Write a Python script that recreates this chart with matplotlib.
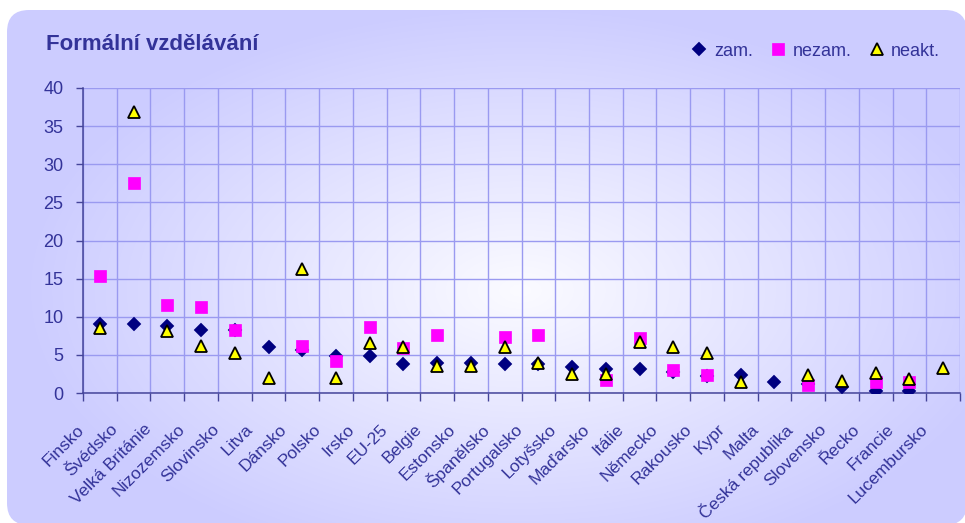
import numpy as np
import matplotlib
matplotlib.use('Agg')
import matplotlib.pyplot as plt
from matplotlib.patches import FancyBboxPatch
from matplotlib.transforms import ScaledTranslation

nan = np.nan
title = 'Formální vzdělávání'
countries = ['Finsko', 'Švédsko', 'Velká Británie', 'Nizozemsko', 'Slovinsko', 'Litva',
             'Dánsko', 'Polsko', 'Irsko', 'EU-25', 'Belgie', 'Estonsko', 'Španělsko',
             'Portugalsko', 'Lotyšsko', 'Maďarsko', 'Itálie', 'Německo', 'Rakousko',
             'Kypr', 'Malta', 'Česká republika', 'Slovensko', 'Řecko', 'Francie',
             'Lucembursko']
series_labels = ['zam.', 'nezam.', 'neakt.']
zam = [9.0, 9.0, 8.8, 8.2, 8.2, 6.0, 5.7, 4.9, 4.9, 3.8, 3.9, 3.9, 3.8,
       3.8, 3.4, 3.2, 3.1, 2.7, 2.2, 2.3, 1.4, 1.2, 0.8, 0.3, 0.3, nan]
nezam = [15.4, 27.6, 11.5, 11.3, 8.3, nan, 6.2, 4.2, 8.6, 5.9, 7.6, nan, 7.4,
         7.6, nan, 1.7, 7.2, 3.0, 2.3, nan, nan, 1.0, nan, 1.4, 1.5, nan]
neakt = [8.5, 36.9, 8.1, 6.2, 5.3, 2.0, 16.2, 2.0, 6.5, 6.0, 3.5, 3.5, 6.0,
         4.0, 2.5, 2.5, 6.7, 6.0, 5.3, 1.4, nan, 2.4, 1.6, 2.6, 1.8, 3.3]
y_ticks = [0, 5, 10, 15, 20, 25, 30, 35, 40]

plt.rcParams['font.family'] = ['Liberation Sans', 'DejaVu Sans']
TXT = '#333399'
GRID = '#9a9af0'
AXC = '#45459a'

W, H = 965, 523
DPI = 100
fig = plt.figure(figsize=(W / DPI, H / DPI), dpi=DPI)
fig.patch.set_facecolor('white')

# background rounded panel with radial gradient
bg = fig.add_axes([0, 0, 1, 1], zorder=0)
bg.set_xlim(0, W)
bg.set_ylim(H, 0)
bg.axis('off')
yy, xx = np.mgrid[0:H, 0:W]
cx, cy, rx, ry = 520, 290, 500, 285
t = np.clip(np.sqrt(((xx - cx) / rx) ** 2 + ((yy - cy) / ry) ** 2), 0, 1)
edge = np.array([204, 204, 255]) / 255
center = np.array([251, 251, 255]) / 255
img = center + (edge - center) * t[..., None]
im = bg.imshow(img, extent=(0, W, H, 0), interpolation='bilinear', zorder=0, aspect='auto')
panel = FancyBboxPatch((7, 10), 960, 515, boxstyle='round,pad=0,rounding_size=22',
                       transform=bg.transData, facecolor='none', edgecolor='none')
bg.add_patch(panel)
im.set_clip_path(panel)

# main axes
ax = fig.add_axes([83 / W, 1 - 393 / H, (960 - 83) / W, (393 - 88) / H], zorder=1)
ax.patch.set_alpha(0)
n = len(countries)
x = np.arange(n)
ax.plot(x, zam, ls='none', marker='D', ms=7.3, color='#000080', mec='#000080',
        mew=0.3, label=series_labels[0], zorder=3)
ax.plot(x, nezam, ls='none', marker='s', ms=8.3, color='#ff00ff', mec='#ff00ff',
        mew=0.5, label=series_labels[1], zorder=4)
ax.plot(x, neakt, ls='none', marker='^', ms=8.0, color='#ffff00', mec='black',
        mew=1.3, label=series_labels[2], zorder=5)

ax.set_xlim(-0.5, n - 0.5)
ax.set_ylim(0, 40)
ax.set_xticks(x)
ax.set_xticklabels(countries, rotation=45, ha='right', va='center', rotation_mode='anchor')
ax.set_xticks(np.arange(-0.5, n), minor=True)
ax.tick_params(axis='x', which='major', length=0, pad=0, labelsize=12.5, labelcolor=TXT)
ax.tick_params(axis='x', which='minor', length=6, color=AXC, width=1)
ax.grid(True, axis='x', which='minor', color=GRID, lw=1)
ax.set_yticks(y_ticks)
ax.tick_params(axis='y', length=5, color=AXC, width=1, labelsize=13, labelcolor=TXT, pad=9)
ax.grid(True, axis='y', which='major', color=GRID, lw=1)
ax.set_axisbelow(True)
for s in ['top', 'right']:
    ax.spines[s].set_visible(False)
for s in ['left', 'bottom']:
    ax.spines[s].set_color(AXC)
    ax.spines[s].set_linewidth(1.1)

offset = ScaledTranslation(-18 / DPI, -34 / DPI, fig.dpi_scale_trans)
for lab in ax.get_xticklabels():
    lab.set_transform(lab.get_transform() + offset)

fig.text(46 / W, 1 - 45 / H, title, fontsize=16, fontweight='bold', color=TXT,
         ha='left', va='center')

ax.legend(loc='center right', bbox_to_anchor=(940 / W, 1 - 51 / H),
          bbox_transform=fig.transFigure, ncol=3, frameon=False, numpoints=1,
          handlelength=0.8, handletextpad=0.4, columnspacing=1.0, fontsize=13,
          labelcolor=TXT, borderpad=0, borderaxespad=0)

fig.savefig('out.png', dpi=DPI, facecolor='white')
